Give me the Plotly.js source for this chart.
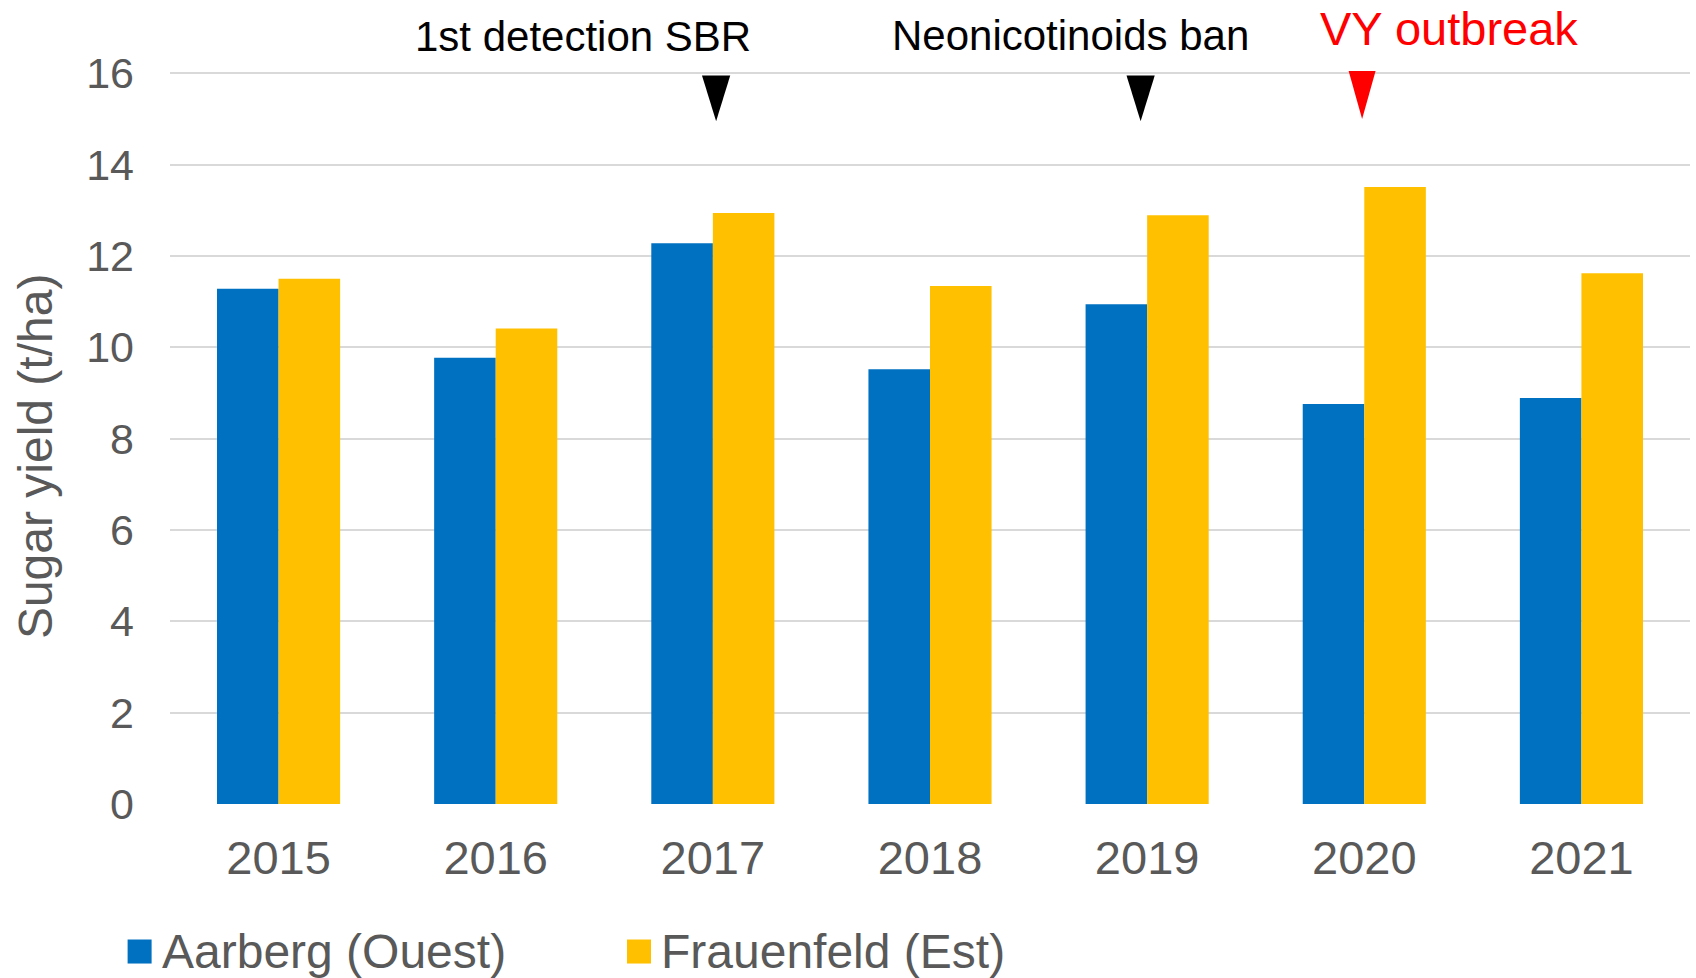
<!DOCTYPE html>
<html>
<head>
<meta charset="utf-8">
<script src="https://cdn.plot.ly/plotly-3.0.1.min.js"></script>
<style>
  html, body { margin: 0; padding: 0; background: #fff; }
  #chart { width: 1696px; height: 978px; }
</style>
</head>
<body>
<div id="chart"></div>
<script>
// categories
let years = ["2015", "2016", "2017", "2018", "2019", "2020", "2021"];

// sugar yield (t/ha) per factory
let aarberg = [11.28, 9.77, 12.28, 9.52, 10.94, 8.76, 8.89];
let frauenfeld = [11.50, 10.41, 12.94, 11.34, 12.89, 13.51, 11.62];

let seriesNames = ["Aarberg (Ouest)", "Frauenfeld (Est)"];
let yTicks = [0, 2, 4, 6, 8, 10, 12, 14, 16];

// events marked above the bars
let eventYears = ["2017", "2019", "2020"];
let eventLabels = ["1st detection SBR", "Neonicotinoids ban", "VY outbreak"];

// styling
let blue = "#0070C0";
let yellow = "#FFC000";
let grey = "#595959";
let font = "Liberation Sans, Arial, sans-serif";
let eventColors = ["#000000", "#000000", "#FF0000"];
let eventFontSize = [42, 42, 47];
let eventShift = [-130, -77, 85];
let eventTextY = [16.8, 16.82, 16.98];
let arrowNudge = [0.015, -0.03, -0.01];
let arrowTop = [15.95, 15.95, 16.1];
let arrowTip = [14.95, 14.95, 15.0];

// plot area in pixels
let W = 1696, H = 978;
let yMax = 16.05;
let plotL = 170, plotR = 1690, plotT = 71.2, plotB = 803.6;
function px2x(px) { return (px - plotL) / (plotR - plotL); }
function px2y(py) { return (plotB - py) / (plotB - plotT); }

let trace1 = {
    x: years,
    y: aarberg,
    type: "bar",
    name: seriesNames[0],
    marker: { color: blue },
    showlegend: false,
    hoverinfo: "x+y"
};

let trace2 = {
    x: years,
    y: frauenfeld,
    type: "bar",
    name: seriesNames[1],
    marker: { color: yellow },
    showlegend: false,
    hoverinfo: "x+y"
};

let data = [trace1, trace2];

// arrows + labels for the events
let shapes = [];
let annotations = [];
eventYears.forEach(function (yr, k) {
    let idx = years.indexOf(yr);
    let i = idx + arrowNudge[k];
    shapes.push({
        type: "path",
        xref: "x", yref: "y",
        path: "M " + (i - 0.065) + "," + arrowTop[k] + " L " + (i + 0.065) + "," + arrowTop[k] + " L " + i + "," + arrowTip[k] + " Z",
        fillcolor: eventColors[k],
        line: { width: 0 }
    });
    // category axis -> annotation x is the category index
    annotations.push({
        x: idx, y: eventTextY[k] / yMax,
        xref: "x", yref: "paper",
        text: eventLabels[k],
        showarrow: false,
        xshift: eventShift[k],
        xanchor: "center", yanchor: "middle",
        font: { family: font, size: eventFontSize[k], color: eventColors[k] }
    });
});

// y axis title (placed by hand, it sits a bit below the middle in the original)
annotations.push({
    x: px2x(35), y: px2y(456),
    xref: "paper", yref: "paper",
    text: "Sugar yield (t/ha)",
    textangle: -90,
    showarrow: false,
    xanchor: "center", yanchor: "middle",
    font: { family: font, size: 48, color: grey }
});

// legend drawn by hand so the colour squares are big like the original
let legendX = [127.6, 627];
[blue, yellow].forEach(function (c, k) {
    shapes.push({
        type: "rect",
        xref: "paper", yref: "paper",
        x0: px2x(legendX[k]), x1: px2x(legendX[k] + 24),
        y0: px2y(963), y1: px2y(939),
        fillcolor: c,
        line: { width: 0 }
    });
    annotations.push({
        x: px2x(legendX[k] + 32), y: px2y(951),
        xref: "paper", yref: "paper",
        text: seriesNames[k],
        showarrow: false,
        xanchor: "left", yanchor: "middle",
        font: { family: font, size: 48, color: grey }
    });
});

let layout = {
    width: W,
    height: H,
    margin: { l: plotL, r: W - plotR, t: plotT, b: H - plotB, pad: 0 },
    paper_bgcolor: "#ffffff",
    plot_bgcolor: "#ffffff",
    font: { family: font, color: grey },
    barmode: "group",
    bargap: 0.433,
    bargroupgap: 0,
    showlegend: false,
    xaxis: {
        type: "category",
        categoryorder: "array",
        categoryarray: years,
        range: [-0.5, years.length - 0.5],
        autorange: false,
        tickfont: { family: font, size: 47, color: grey },
        showgrid: false,
        showline: false,
        zeroline: false,
        ticks: "",
        ticklabelstandoff: 22
    },
    yaxis: {
        range: [0, yMax],
        autorange: false,
        tickvals: yTicks,
        tickfont: { family: font, size: 43, color: grey },
        showgrid: true,
        gridcolor: "#D9D9D9",
        gridwidth: 2,
        zeroline: false,
        showline: false,
        ticks: "",
        ticklabelstandoff: 35
    },
    shapes: shapes,
    annotations: annotations
};

Plotly.newPlot("chart", data, layout, { displayModeBar: false, staticPlot: true });
</script>
</body>
</html>
